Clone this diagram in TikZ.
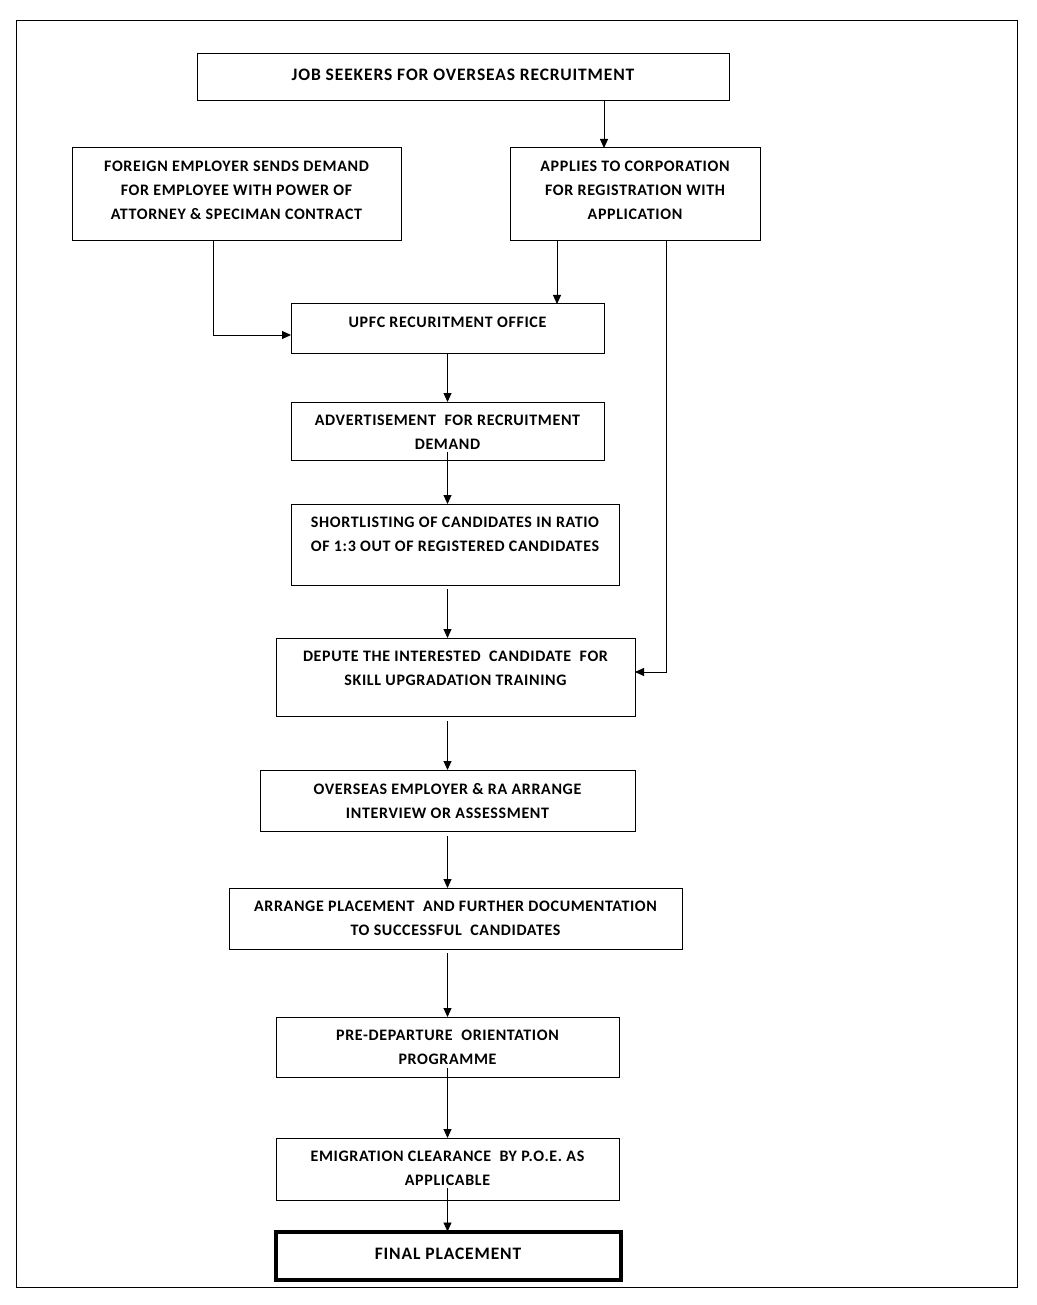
\documentclass[tikz,border=0pt]{standalone}
\usepackage{fontspec}
\setmainfont{Carlito}[LetterSpace=4]
\newfontfamily\bigf{Carlito}[LetterSpace=5]
\usetikzlibrary{arrows.meta,calc}
\newcommand{\bx}[6]{%
  \node[box, minimum width={#4-#2}, minimum height={#5-#3}] (#1) at ({(#2+#4)/2},{(#3+#5)/2}) {};
  \node[txt] (#1t) at ({(#2+#4)/2},{#3+13}) {#6};}
\begin{document}
\begin{tikzpicture}[x=1pt,y=-1pt,
  box/.style={draw,rectangle,inner sep=0pt,outer sep=0pt,line width=1pt},
  txt/.style={font=\fontsize{16}{24}\selectfont\bfseries, align=center, inner sep=0pt, anchor=north},
  bigtxt/.style={font=\bigf\fontsize{17.5}{24}\selectfont\bfseries, align=center, inner sep=0pt},
  arr/.style={line width=0.9pt,-{Triangle[length=9pt,width=8pt]}}]
\useasboundingbox (0,0) rectangle (1036,1305);
\draw[line width=1pt] (16,21) rectangle (1017,1287);
\node[box, minimum width=532pt, minimum height=47pt] (js) at (463,77.5) {};
\node[bigtxt] (jst) at (463,74.5) {JOB SEEKERS FOR OVERSEAS RECRUITMENT};
\bx{fe}{72}{148}{401}{241}{FOREIGN EMPLOYER SENDS DEMAND\\FOR EMPLOYEE WITH POWER OF\\ATTORNEY \& SPECIMAN CONTRACT}
\bx{ap}{510}{148}{760}{241}{APPLIES TO CORPORATION\\FOR REGISTRATION WITH\\APPLICATION}
\bx{up}{291}{304}{604}{353}{UPFC RECURITMENT OFFICE}
\bx{adv}{291}{402}{604}{460}{ADVERTISEMENT\ \ FOR RECRUITMENT\\DEMAND}
\bx{sh}{291}{504}{619}{585}{SHORTLISTING OF CANDIDATES IN RATIO\\OF 1:3 OUT OF REGISTERED CANDIDATES}
\bx{dep}{276}{638}{635}{716}{DEPUTE THE INTERESTED\ \ CANDIDATE\ \ FOR\\SKILL UPGRADATION TRAINING}
\bx{ov}{260}{770}{635}{831}{OVERSEAS EMPLOYER \& RA ARRANGE\\INTERVIEW OR ASSESSMENT}
\bx{ar}{229}{888}{682}{949}{ARRANGE PLACEMENT\ \ AND FURTHER DOCUMENTATION\\TO SUCCESSFUL\ \ CANDIDATES}
\bx{pre}{276}{1017}{619}{1077}{PRE-DEPARTURE\ \ ORIENTATION\\PROGRAMME}
\bx{em}{276}{1138}{619}{1200}{EMIGRATION CLEARANCE\ \ BY P.O.E. AS\\APPLICABLE}
\node[draw,rectangle,inner sep=0pt,outer sep=0pt,line width=4pt,minimum width=345pt,minimum height=48pt] (fin) at (448,1255.5) {};
\node[bigtxt] (fint) at (448,1253.5) {FINAL PLACEMENT};
% connectors
\draw[arr] ([xshift=-31pt]ap.north |- js.south) -- ([xshift=-31pt]ap.north);
\draw[arr] ([xshift=-23.5pt]fe.south) |- ([yshift=-6.5pt]up.west);
\draw[arr] ([xshift=-78pt]ap.south) -- ([xshift=-78pt]ap.south |- up.north);
\draw[arr] ([xshift=31pt]ap.south) |- ([yshift=5pt]dep.east);
\draw[arr] (up.south) -- (up.south |- adv.north);
\draw[arr] ([yshift=8pt]adv.south) -- (adv.south |- sh.north);
\draw[arr] ([yshift=-4pt]adv.south |- sh.south) -- (adv.south |- dep.north);
\draw[arr] ([yshift=-5pt]adv.south |- dep.south) -- (adv.south |- ov.north);
\draw[arr] ([yshift=-5pt]ov.south) -- (ov.south |- ar.north);
\draw[arr] ([yshift=-4pt]ov.south |- ar.south) -- (ov.south |- pre.north);
\draw[arr] ([yshift=9pt]pre.south) -- (pre.south |- em.north);
\draw[arr] ([yshift=12pt]em.south) -- (em.south |- fin.north);
\end{tikzpicture}
\end{document}
